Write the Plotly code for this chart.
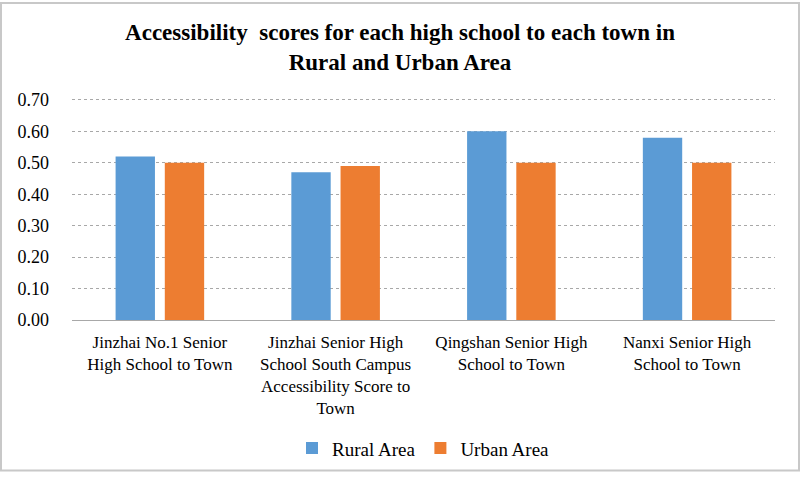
import plotly.graph_objects as go

categories = [
    "Jinzhai No.1 Senior<br>High School to Town",
    "Jinzhai Senior High<br>School South Campus<br>Accessibility Score to<br>Town",
    "Qingshan Senior High<br>School to Town",
    "Nanxi Senior High<br>School to Town",
]
rural = [0.52, 0.47, 0.60, 0.58]
urban = [0.50, 0.49, 0.50, 0.50]
tick_vals = [0.0, 0.1, 0.2, 0.3, 0.4, 0.5, 0.6, 0.7]
tick_text = ["0.00", "0.10", "0.20", "0.30", "0.40", "0.50", "0.60", "0.70"]

FONT = "Liberation Serif"

fig = go.Figure()
fig.add_trace(go.Bar(name="Rural Area", x=categories, y=rural,
                     marker=dict(color="#5B9BD5", line=dict(width=0))))
fig.add_trace(go.Bar(name="Urban Area", x=categories, y=urban,
                     marker=dict(color="#ED7D31", line=dict(width=0))))

L, R, T, B = 72, 25, 97, 155
W, H = 800, 480
pw, ph = W - L - R, H - T - B

fig.update_layout(
    width=W, height=H,
    margin=dict(l=L, r=R, t=T, b=B),
    paper_bgcolor="white", plot_bgcolor="white",
    barmode="group", bargap=0.44, bargroupgap=0.2,
    title=dict(text="<b>Accessibility  scores for each high school to each town in<br>Rural and Urban Area</b>",
               x=0.5, xanchor="center", y=0.916, yanchor="top",
               font=dict(family=FONT, size=23, color="black")),
    font=dict(family=FONT, size=17, color="black"),
    legend=dict(orientation="h", x=0.5, xanchor="center", y=-0.49, yanchor="top",
                font=dict(family=FONT, size=19, color="black"), traceorder="normal",
                itemwidth=30),
    xaxis=dict(showgrid=False, showline=False, ticks="", ticklabelstandoff=10,
               tickfont=dict(family=FONT, size=17)),
    yaxis=dict(range=[0, 0.7 * 228 / 225], tickvals=tick_vals, ticktext=tick_text,
               showgrid=True, gridcolor="#a8a8a8", griddash="dot", gridwidth=1,
               zeroline=True, zerolinecolor="#a8a8a8", zerolinewidth=1,
               showline=False, ticks="", ticklabelstandoff=22,
               tickfont=dict(family=FONT, size=18)),
    shapes=[dict(type="rect", xref="paper", yref="paper",
                 x0=(1 - L) / pw, x1=(W - 1 - L) / pw,
                 y0=(T + ph - (H - 1)) / ph, y1=(T + ph - 1) / ph,
                 line=dict(color="#c8c8c8", width=2), fillcolor="rgba(0,0,0,0)")],
)

fig.write_html("out.html")
